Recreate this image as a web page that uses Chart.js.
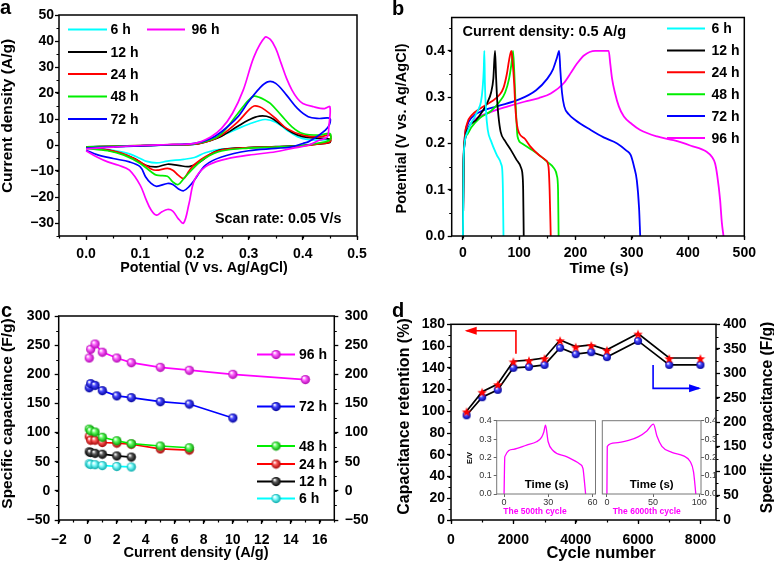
<!DOCTYPE html>
<html>
<head>
<meta charset="utf-8">
<title>Electrochemical performance</title>
<script src="https://cdn.jsdelivr.net/npm/chart.js@4.4.1/dist/chart.umd.min.js"></script>
<style>
  body { margin: 0; background: #fff; }
  #fig { position: relative; width: 774px; height: 564px; overflow: hidden; font-family: "Liberation Sans", Arial, sans-serif; }
  #fig canvas { position: absolute; }
  .tag { position: absolute; font-weight: bold; font-size: 20px; line-height: 20px; }
</style>
</head>
<body>
<div id="fig">
  <canvas id="cvA" width="387" height="282" style="left:0;top:0"></canvas>
  <canvas id="cvB" width="387" height="282" style="left:387px;top:0"></canvas>
  <canvas id="cvC" width="387" height="282" style="left:0;top:282px"></canvas>
  <canvas id="cvD" width="387" height="282" style="left:387px;top:282px"></canvas>
  <canvas id="cvI1" width="145" height="115" style="left:460px;top:410px"></canvas>
  <canvas id="cvI2" width="145" height="115" style="left:592px;top:410px"></canvas>
  <div class="tag" style="left:0;top:-3px">a</div>
  <div class="tag" style="left:392px;top:-2px">b</div>
  <div class="tag" style="left:1px;top:300px">c</div>
  <div class="tag" style="left:392px;top:300px">d</div>
</div>
<script>
// ---- panel a: CV curves, [potential V, current density A/g]
const cv6 = [[0,-0.7],[0.05,-0.5],[0.1,-0.3],[0.15,0],[0.2,0.2],[0.23,1.8],[0.25,3.6],[0.28,6.3],[0.3,8],[0.33,9.8],[0.35,8.8],[0.37,5.8],[0.39,3.2],[0.41,2.1],[0.43,1.9],[0.45,2],[0.45,1.2],[0.43,0.5],[0.4,-0.1],[0.35,-0.7],[0.3,-1.1],[0.25,-1.6],[0.22,-3],[0.2,-4.8],[0.18,-5.5],[0.15,-6.2],[0.13,-6.9],[0.11,-6.2],[0.1,-5.2],[0.08,-3.4],[0.05,-2.1],[0.02,-1.2],[0,-0.8]];
const cv12 = [[0,-0.7],[0.05,-0.5],[0.1,-0.3],[0.15,0],[0.2,0.3],[0.23,1.8],[0.25,3.4],[0.28,7.2],[0.3,9.6],[0.32,11.1],[0.34,10.6],[0.36,7.7],[0.38,4.8],[0.4,3.2],[0.43,2.6],[0.45,2.2],[0.45,1],[0.43,0.4],[0.4,-0.2],[0.35,-0.6],[0.3,-1],[0.25,-1.8],[0.23,-3.5],[0.21,-6.5],[0.19,-8.3],[0.17,-7.8],[0.15,-7.4],[0.13,-8.4],[0.11,-7.8],[0.09,-5.3],[0.06,-3],[0.03,-1.6],[0,-1]];
const cv24 = [[0,-0.8],[0.05,-0.5],[0.1,-0.2],[0.15,0.1],[0.2,0.3],[0.23,1.8],[0.25,3.8],[0.28,8.9],[0.3,13.4],[0.31,15],[0.32,14.7],[0.33,13.5],[0.35,10.2],[0.37,6.4],[0.4,3.8],[0.43,3.1],[0.45,3.8],[0.45,1.2],[0.43,0.4],[0.4,-0.3],[0.35,-0.7],[0.3,-1],[0.25,-2],[0.22,-4.5],[0.2,-7.5],[0.19,-10],[0.18,-12.9],[0.17,-11.6],[0.16,-9.7],[0.15,-9],[0.13,-9.7],[0.12,-9.2],[0.1,-6.5],[0.07,-3.5],[0.04,-2],[0,-1.1]];
const cv48 = [[0,-0.8],[0.05,-0.5],[0.1,-0.2],[0.15,0.1],[0.2,0.4],[0.23,2],[0.25,4.4],[0.28,12.1],[0.3,17.3],[0.31,18.8],[0.32,18.3],[0.33,17.3],[0.34,16],[0.36,11.5],[0.38,7],[0.4,4.4],[0.43,3.8],[0.45,4.4],[0.45,1.9],[0.42,0.4],[0.4,-0.2],[0.35,-0.8],[0.3,-1.2],[0.25,-2.3],[0.22,-5],[0.2,-8.5],[0.18,-13],[0.17,-15.2],[0.16,-14.2],[0.15,-12],[0.13,-11.6],[0.12,-10.3],[0.1,-7.1],[0.07,-3.9],[0.04,-2.2],[0,-1.3]];
const cv72 = [[0,-1.2],[0.05,-0.7],[0.1,-0.3],[0.15,0.1],[0.2,0.6],[0.23,2.5],[0.25,5.1],[0.28,10.8],[0.3,16.7],[0.32,21.8],[0.335,24.3],[0.35,23.7],[0.37,19.2],[0.39,14.1],[0.41,10.9],[0.43,10.2],[0.45,10.2],[0.447,7],[0.43,3.8],[0.41,1.2],[0.4,0.6],[0.38,-0.7],[0.35,-1.3],[0.3,-2.2],[0.25,-4.6],[0.22,-7.8],[0.2,-13.5],[0.19,-16],[0.18,-17.6],[0.17,-16.8],[0.16,-15.2],[0.15,-14.8],[0.13,-15.9],[0.12,-14.8],[0.11,-12.3],[0.1,-8.4],[0.08,-6.5],[0.05,-5.2],[0.02,-3.7],[0,-2]];
const cv96 = [[0,-1.5],[0.05,-0.8],[0.1,-0.2],[0.15,0.2],[0.2,0.6],[0.23,3.1],[0.25,6.4],[0.27,12.1],[0.29,21.1],[0.31,34],[0.33,41.4],[0.34,40.6],[0.35,37.2],[0.36,31.4],[0.37,25.6],[0.38,21.1],[0.39,17.9],[0.4,16],[0.42,14.7],[0.44,14],[0.45,14.7],[0.448,7],[0.445,3.1],[0.43,1.8],[0.41,-0.1],[0.38,-1.3],[0.35,-2.6],[0.3,-3.9],[0.25,-5.8],[0.22,-8.4],[0.2,-13.5],[0.19,-22.5],[0.18,-30],[0.17,-28.3],[0.16,-25.4],[0.15,-24.8],[0.14,-25.7],[0.13,-27],[0.12,-25],[0.11,-20.6],[0.1,-15.5],[0.08,-9.7],[0.06,-7.8],[0.04,-6.5],[0.02,-4.6],[0,-2.2]];

// ---- panel b: charge/discharge, [time s, potential V]
const gcd6 = [[0,0],[1,0.15],[3,0.2],[8,0.225],[14,0.243],[20,0.255],[26,0.27],[32,0.29],[35,0.32],[37,0.36],[38,0.4],[39,0.33],[41,0.27],[44,0.23],[50,0.205],[60,0.175],[68,0.155],[70,0.14],[71,0.1],[72,0]];
const gcd12 = [[0,0],[1,0.15],[3,0.2],[10,0.235],[23,0.25],[35,0.27],[44,0.29],[50,0.31],[54,0.34],[57,0.4],[59,0.34],[61,0.29],[63,0.26],[67,0.225],[75,0.205],[85,0.186],[95,0.165],[104,0.145],[106,0.13],[107,0.1],[108,0]];
const gcd24 = [[0,0],[1,0.15],[3,0.21],[8,0.245],[15,0.26],[30,0.275],[50,0.29],[65,0.305],[72,0.32],[78,0.35],[82,0.38],[86,0.4],[88,0.38],[91,0.33],[93,0.28],[96,0.24],[100,0.222],[110,0.21],[120,0.193],[135,0.175],[147,0.164],[152,0.15],[154,0.1],[156,0]];
const gcd48 = [[0,0],[1,0.15],[3,0.205],[8,0.22],[15,0.235],[30,0.255],[50,0.27],[65,0.29],[75,0.31],[82,0.34],[86,0.37],[89,0.4],[91,0.36],[93,0.3],[95,0.25],[97,0.215],[105,0.2],[120,0.188],[132,0.178],[150,0.16],[162,0.146],[167,0.13],[169,0.1],[170,0]];
const gcd72 = [[0,0],[1,0.15],[3,0.21],[8,0.24],[15,0.255],[30,0.268],[60,0.28],[100,0.295],[130,0.315],[150,0.34],[160,0.36],[167,0.385],[171,0.4],[173,0.36],[176,0.31],[180,0.28],[188,0.263],[200,0.25],[227,0.229],[250,0.213],[274,0.2],[290,0.185],[298,0.175],[304,0.15],[309,0.12],[313,0.06],[315,0]];
const gcd96 = [[0,0],[1,0.15],[3,0.2],[10,0.235],[20,0.25],[50,0.268],[80,0.28],[109,0.29],[135,0.298],[156,0.308],[179,0.33],[193,0.355],[203,0.373],[215,0.39],[235,0.4],[259,0.4],[262,0.37],[265,0.34],[270,0.31],[277,0.28],[286,0.258],[300,0.242],[315,0.229],[345,0.215],[374,0.207],[405,0.195],[433,0.182],[443,0.17],[448,0.157],[452,0.13],[457,0.078],[460,0.03],[463,0]];

// ---- panel c: rate capability
const rate = [0.1, 0.2, 0.5, 1, 2, 3, 5, 7, 10, 15];
const cap96 = [228, 243, 252, 238, 228, 220, 212, 207, 200, 191];
const cap72 = [177, 184, 181, 172, 163, 160, 153, 149, 125];
const cap48 = [106, 103, 101, 92, 86, 81, 77, 74];
const cap24 = [93, 87, 87, 83, 82, 80, 72, 70];
const cap12 = [67, 66, 64.5, 63, 60, 58];
const cap6 = [46.5, 45.5, 45, 43.5, 42, 41];

// ---- panel d: cycling
const cycles = [500, 1000, 1500, 2000, 2500, 3000, 3500, 4000, 4500, 5000, 6000, 7000, 8000];
const retention = [100, 118, 125, 146, 147, 149, 165.5, 159.5, 161, 156.5, 171.5, 149, 149];
const capCycle = [214, 251, 266, 311, 313, 317, 352, 339, 343, 333, 366, 317, 317];
const cyc500 = [[0,0],[0.3,0.15],[0.5,0.204],[6.3,0.244],[15.3,0.267],[22,0.285],[25.4,0.309],[27,0.34],[28.1,0.376],[29.9,0.285],[33.3,0.236],[42.3,0.204],[51.3,0.164],[53.5,0.14],[54.4,0.076],[55.3,0]];
const cyc6000 = [[0,0],[0.2,0.15],[0.4,0.26],[9,0.279],[23.5,0.292],[34.3,0.313],[43.3,0.344],[50.5,0.381],[54.2,0.316],[59.6,0.26],[70.4,0.227],[83,0.208],[90.3,0.177],[93.9,0.121],[96.4,0]];

// tick labels
const ticksAx = [0, 0.1, 0.2, 0.3, 0.4, 0.5];
const ticksAy = [-30, -20, -10, 0, 10, 20, 30, 40, 50];
const ticksBx = [0, 100, 200, 300, 400, 500];
const ticksBy = [0, 0.1, 0.2, 0.3, 0.4];
const ticksCx = [-2, 0, 2, 4, 6, 8, 10, 12, 14, 16];
const ticksCy = [-50, 0, 50, 100, 150, 200, 250, 300];
const ticksDx = [0, 2000, 4000, 6000, 8000];
const ticksDy = [0, 20, 40, 60, 80, 100, 120, 140, 160, 180];
const ticksDy2 = [0, 50, 100, 150, 200, 250, 300, 350, 400];
const ticksI1x = [0, 30, 60];
const ticksI2x = [0, 50, 100];
const ticksIy = [0, 0.1, 0.2, 0.3, 0.4];

const FONT = '"Liberation Sans", Arial, Helvetica, sans-serif';
Chart.defaults.font.family = FONT;
Chart.defaults.color = '#000';

const C = { c6: '#00ffff', c12: '#000000', c24: '#ff0000', c48: '#00ee00', c72: '#0000ff', c96: '#ff00ff' };

function sphere(c1, c2, r) {
  const cv = document.createElement('canvas');
  cv.width = cv.height = 2 * r + 2;
  const g = cv.getContext('2d'), m = r + 1;
  const gr = g.createRadialGradient(m - r * 0.35, m - r * 0.4, r * 0.1, m, m, r);
  gr.addColorStop(0, '#ffffff');
  gr.addColorStop(0.35, c1);
  gr.addColorStop(1, c2);
  g.fillStyle = gr;
  g.beginPath(); g.arc(m, m, r, 0, Math.PI * 2); g.fill();
  return cv;
}
function star(color, R, r) {
  const cv = document.createElement('canvas');
  const s = 2 * R + 2; cv.width = cv.height = s;
  const g = cv.getContext('2d');
  g.fillStyle = color; g.beginPath();
  for (let i = 0; i < 10; i++) {
    const a = -Math.PI / 2 + i * Math.PI / 5, rr = i % 2 ? r : R;
    g.lineTo(s / 2 + rr * Math.cos(a), s / 2 + 1 + rr * Math.sin(a));
  }
  g.closePath(); g.fill();
  return cv;
}

// axis with fixed box size and hand-picked ticks
function ax(pos, min, max, ticks, size, pad, o = {}) {
  const horiz = pos === 'bottom';
  return {
    type: 'linear', position: pos, min, max,
    afterBuildTicks: s => { s.ticks = ticks.map(v => ({ value: v })); },
    afterFit: s => { if (horiz) s.height = size; else s.width = size; },
    grid: { drawOnChartArea: false, tickLength: o.tl || 4, tickColor: o.tc || '#000', tickWidth: o.tw || 1.3 },
    border: { display: false },
    ticks: {
      padding: pad, color: o.color || '#000', autoSkip: false, maxRotation: 0,
      font: { size: o.fs || 14, weight: o.fw || 'bold' },
      callback: v => (o.dec !== undefined ? v.toFixed(o.dec) : String(v)).replace('-', '\u2212')
    }
  };
}

const frame = {
  id: 'frame',
  afterDraw(chart, args, o) {
    const { ctx, chartArea: a } = chart;
    ctx.save();
    ctx.strokeStyle = o.color || '#000';
    ctx.lineWidth = o.width || 1.5;
    ctx.strokeRect(a.left, a.top, a.right - a.left, a.bottom - a.top);
    ctx.restore();
  }
};

const minor = {
  id: 'minor',
  afterDraw(chart, args, o) {
    const ctx = chart.ctx;
    ctx.save();
    ctx.strokeStyle = '#000'; ctx.lineWidth = 1.2;
    (o.list || []).forEach(([id, step]) => {
      const s = chart.scales[id];
      const n0 = Math.ceil(s.min / step - 1e-6), n1 = Math.floor(s.max / step + 1e-6);
      ctx.beginPath();
      for (let i = n0; i <= n1; i++) {
        const p = Math.round(s.getPixelForValue(i * step)) + 0.5;
        if (s.position === 'bottom') { ctx.moveTo(p, s.top); ctx.lineTo(p, s.top + 2.5); }
        else if (s.position === 'left') { ctx.moveTo(s.right, p); ctx.lineTo(s.right - 2.5, p); }
        else { ctx.moveTo(s.left, p); ctx.lineTo(s.left + 2.5, p); }
      }
      ctx.stroke();
    });
    ctx.restore();
  }
};

// legend rows: [dataset index, line x1, line x2, y, text x]
const keys = {
  id: 'keys',
  afterDraw(chart, args, o) {
    const ctx = chart.ctx;
    ctx.save();
    ctx.font = 'bold 14px ' + FONT;
    ctx.textBaseline = 'middle';
    ctx.fillStyle = '#000';
    (o.rows || []).forEach(([i, x1, x2, y, tx]) => {
      const ds = chart.data.datasets[i];
      ctx.strokeStyle = ds.borderColor; ctx.lineWidth = 2;
      ctx.beginPath(); ctx.moveTo(x1, y); ctx.lineTo(x2, y); ctx.stroke();
      if (o.marker) {
        const im = ds.pointStyle;
        ctx.drawImage(im, (x1 + x2) / 2 - im.width / 2, y - im.height / 2);
      }
      ctx.fillText(ds.label, tx, y + 1);
    });
    ctx.restore();
  }
};

// free text: [text, x, y, size, rotation, color, align]
const notes = {
  id: 'notes',
  afterDraw(chart, args, o) {
    const ctx = chart.ctx;
    (o.items || []).forEach(([t, x, y, size, rot, color, align]) => {
      ctx.save();
      ctx.font = 'bold ' + size + 'px ' + FONT;
      ctx.fillStyle = color || '#000';
      ctx.textAlign = align || 'center';
      ctx.textBaseline = 'middle';
      ctx.translate(x, y);
      if (rot) ctx.rotate(rot * Math.PI / 180);
      ctx.fillText(t, 0, 0);
      ctx.restore();
    });
  }
};

const arrows = {
  id: 'arrows',
  afterDraw(chart, args, o) {
    const { ctx, scales } = chart;
    (o.list || []).forEach(a => {
      const pts = a.pts.map(([u, v]) => [scales.x.getPixelForValue(u), scales.y.getPixelForValue(v)]);
      ctx.save();
      ctx.strokeStyle = ctx.fillStyle = a.color;
      ctx.lineWidth = 1.6;
      ctx.beginPath();
      pts.forEach(([px, py], k) => k ? ctx.lineTo(px, py) : ctx.moveTo(px, py));
      ctx.stroke();
      const [x1, y1] = pts[pts.length - 2], [x2, y2] = pts[pts.length - 1];
      const ang = Math.atan2(y2 - y1, x2 - x1), L = 10, W = 4;
      ctx.beginPath();
      ctx.moveTo(x2 + 2 * Math.cos(ang), y2 + 2 * Math.sin(ang));
      ctx.lineTo(x2 - L * Math.cos(ang) + W * Math.sin(ang), y2 - L * Math.sin(ang) - W * Math.cos(ang));
      ctx.lineTo(x2 - L * Math.cos(ang) - W * Math.sin(ang), y2 - L * Math.sin(ang) + W * Math.cos(ang));
      ctx.closePath(); ctx.fill();
      ctx.restore();
    });
  }
};

function mk(id, datasets, scales, pad, extra) {
  return new Chart(document.getElementById(id), {
    type: 'scatter',
    data: { datasets },
    options: {
      responsive: false, animation: false, events: [],
      layout: { padding: pad },
      plugins: Object.assign({ legend: { display: false }, tooltip: { enabled: false } }, extra),
      scales
    },
    plugins: [frame, minor, keys, notes, arrows]
  });
}

const pairs = arr => arr.map(([x, y]) => ({ x, y }));
const zip = (xs, ys) => ys.map((y, i) => ({ x: xs[i], y }));

// ---------- a ----------
const setA = [['6 h', cv6, C.c6], ['12 h', cv12, C.c12], ['24 h', cv24, C.c24], ['48 h', cv48, C.c48], ['72 h', cv72, C.c72], ['96 h', cv96, C.c96]];
mk('cvA',
  setA.map(([label, d, col], i) => ({ label, data: pairs(d), showLine: true, borderColor: col, borderWidth: 1.7, pointRadius: 0, tension: 0.35, order: 5 - i })),
  {
    x: ax('bottom', -0.05, 0.5, ticksAx, 46, 6, { dec: 1 }),
    y: ax('left', -35, 50, ticksAy, 59, 1)
  },
  { left: 0, top: 15, right: 30, bottom: 0 },
  {
    minor: { list: [['x', 0.05], ['y', 5]] },
    keys: { rows: [[0, 68, 107, 29.5, 110.5], [1, 68, 107, 52, 110.5], [2, 68, 107, 74, 110.5], [3, 68, 107, 96.5, 110.5], [4, 68, 107, 119, 110.5], [5, 147, 185, 29.5, 191.5]] },
    notes: { items: [
      ['Scan rate: 0.05 V/s', 215, 219.5, 14.3, 0, '#000', 'left'],
      ['Potential (V vs. Ag/AgCl)', 204, 268, 14.3, 0],
      ['Current density (A/g)', 8, 116, 15.5, -90]
    ] }
  });

// ---------- b ----------
const setB = [['6 h', gcd6, C.c6], ['12 h', gcd12, C.c12], ['24 h', gcd24, C.c24], ['48 h', gcd48, C.c48], ['72 h', gcd72, C.c72], ['96 h', gcd96, C.c96]];
mk('cvB',
  setB.map(([label, d, col]) => ({ label, data: pairs(d), showLine: true, borderColor: col, borderWidth: 1.8, pointRadius: 0, cubicInterpolationMode: 'monotone' })),
  {
    x: ax('bottom', -20, 500, ticksBx, 46, 5),
    y: ax('left', 0, 0.472, ticksBy, 64.7, 2.7, { dec: 1 })
  },
  { left: 0, top: 17.5, right: 29.7, bottom: 0 },
  {
    minor: { list: [['x', 50], ['y', 0.05]] },
    keys: { rows: [0, 1, 2, 3, 4, 5].map(i => [i, 280, 318, 28.5 + i * 21.9, 324.5]) },
    notes: { items: [
      ['Current density: 0.5 A/g', 75.5, 31.5, 14.5, 0, '#000', 'left'],
      ['Time (s)', 212, 268.5, 15.5, 0],
      ['Potential (V vs. Ag/AgCl)', 14.5, 128.5, 14.5, -90]
    ] }
  });

// ---------- c ----------
const setC = [['96 h', cap96, C.c96, '#ff66ff', '#b000b0'], ['72 h', cap72, C.c72, '#4a4aff', '#00009a'], ['48 h', cap48, C.c48, '#66ff66', '#009a00'],
              ['24 h', cap24, C.c24, '#ff5a5a', '#a00000'], ['12 h', cap12, C.c12, '#606060', '#000000'], ['6 h', cap6, C.c6, '#88ffff', '#00a8a8']];
mk('cvC',
  setC.map(([label, d, col, l1, l2]) => ({ label, data: zip(rate, d), showLine: true, borderColor: col, borderWidth: 1.7, pointStyle: sphere(l1, l2, 4.6), pointRadius: 4.6 })),
  {
    x: ax('bottom', -2, 17, ticksCx, 44, 7.7),
    y: ax('left', -50, 300, ticksCy, 58.7, 4.5),
    y2: ax('right', -50, 300, ticksCy, 52.7, 6.5)
  },
  { left: 0, top: 34, right: 0, bottom: 0 },
  {
    minor: { list: [['x', 1], ['y', 25], ['y2', 25]] },
    keys: { marker: true, rows: [[0, 257, 295, 72.5, 299], [1, 257, 295, 124.5, 299], [2, 257, 295, 164, 299], [3, 257, 295, 182, 299], [4, 257, 295, 199.5, 299], [5, 257, 295, 216.5, 299]] },
    notes: { items: [
      ['Current density (A/g)', 196, 271, 14.6, 0],
      ['Specific capacitance (F/g)', 8, 131.5, 15.5, -90]
    ] }
  });

// ---------- d ----------
mk('cvD',
  [
    { label: 'Capacitance retention', data: zip(cycles, retention), yAxisID: 'y', showLine: true, borderColor: '#000', borderWidth: 1.7, pointStyle: star('#ff0000', 5, 2.1), pointRadius: 5 },
    { label: 'Specific capacitance', data: zip(cycles, capCycle), yAxisID: 'y2', showLine: true, borderColor: '#000', borderWidth: 1.7, pointStyle: sphere('#4a4aff', '#00009a', 4), pointRadius: 4 }
  ],
  {
    x: ax('bottom', 0, 8500, ticksDx, 44, 7.7),
    y: ax('left', 0, 180, ticksDy, 64, 2),
    y2: ax('right', 0, 400, ticksDy2, 58, 3.3)
  },
  { left: 0, top: 42.3, right: 0, bottom: 0 },
  {
    minor: { list: [['x', 1000], ['y', 10], ['y2', 25]] },
    arrows: { list: [
      { color: '#ff0000', pts: [[2083, 153], [2083, 174], [503, 174]] },
      { color: '#0000ff', pts: [[6482, 142.6], [6482, 121.1], [7956, 121.1]] }
    ] },
    notes: { items: [
      ['Cycle number', 214, 271.5, 16.5, 0],
      ['Capacitance retention (%)', 18, 134.5, 16, -90],
      ['Specific capacitance (F/g)', 380.5, 135.5, 15.6, -90]
    ] }
  });

// ---------- insets ----------
const insetAx = (pos, ticks, size, pad, dec) => ax(pos, pos === 'bottom' ? undefined : 0, pos === 'bottom' ? undefined : 0.4, ticks, size, pad, { fs: 9, fw: 'normal', color: '#333', tc: '#666', tl: 3, tw: 1, dec });
mk('cvI1',
  [{ label: '500th', data: pairs(cyc500), showLine: true, borderColor: '#ff00ff', borderWidth: 1.3, pointRadius: 0, cubicInterpolationMode: 'monotone' }],
  {
    x: Object.assign(insetAx('bottom', ticksI1x, 31, 0), { min: -5, max: 62 }),
    y: insetAx('left', ticksIy, 36.7, 2, 1)
  },
  { left: 0, top: 10.7, right: 9.5, bottom: 0 },
  {
    frame: { color: '#777', width: 1 },
    notes: { items: [
      ['Time (s)', 86.7, 75, 11.5, 0],
      ['The 500th cycle', 75, 101.5, 8.5, 0, '#ff00ff'],
      ['E/V', 10, 48, 7.5, -90]
    ] }
  });
mk('cvI2',
  [{ label: '6000th', data: pairs(cyc6000), showLine: true, borderColor: '#ff00ff', borderWidth: 1.3, pointRadius: 0, cubicInterpolationMode: 'monotone' }],
  {
    x: Object.assign(insetAx('bottom', ticksI2x, 31, 0), { min: -5, max: 102 }),
    y: insetAx('right', ticksIy, 36, 0.5, 1)
  },
  { left: 10.3, top: 10.7, right: 0, bottom: 0 },
  {
    frame: { color: '#777', width: 1 },
    notes: { items: [
      ['Time (s)', 59.7, 75, 11.5, 0],
      ['The 6000th cycle', 54.7, 101.5, 8.5, 0, '#ff00ff']
    ] }
  });
</script>
</body>
</html>
